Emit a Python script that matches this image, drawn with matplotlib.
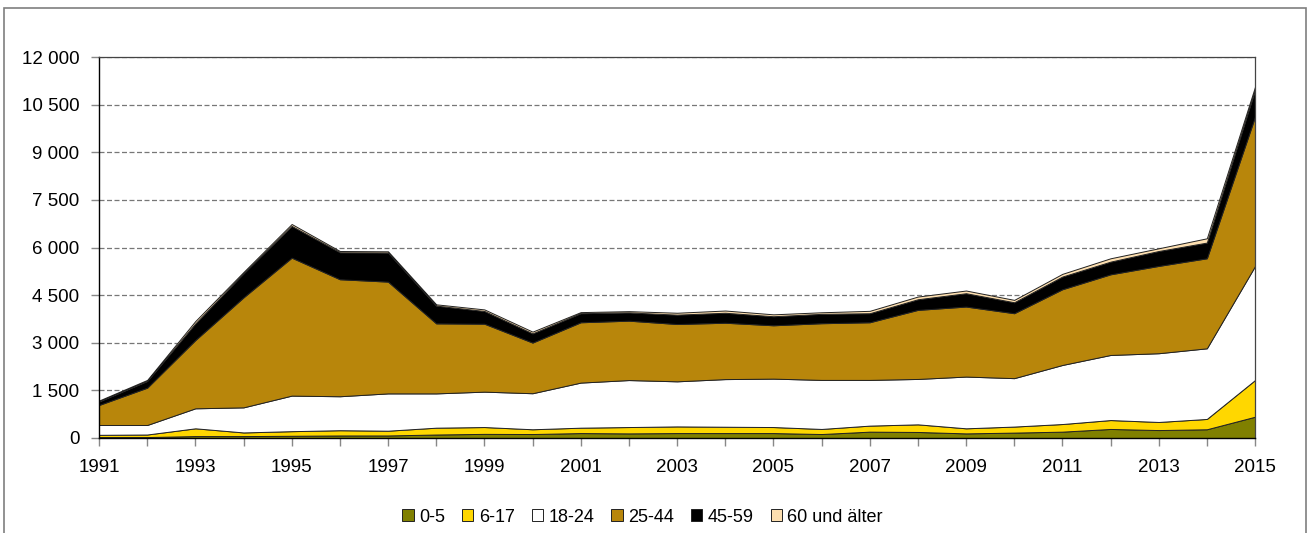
import matplotlib
matplotlib.use("Agg")
import matplotlib.pyplot as plt
from matplotlib.patches import Rectangle
from matplotlib.ticker import FuncFormatter, MultipleLocator

plt.rcParams['font.family'] = ['Liberation Sans', 'DejaVu Sans']

# Jahre und Werte je Altersgruppe
years = list(range(1991, 2016))
age_groups = ["0-5", "6-17", "18-24", "25-44", "45-59", "60 und älter"]
a_0_5 = [30, 30, 60, 60, 70, 80, 80, 110, 130, 125, 155, 145, 155, 155, 155, 125, 200, 190, 145, 170, 200, 285, 250, 275, 670]
a_6_17 = [70, 80, 245, 115, 145, 165, 150, 215, 215, 150, 170, 200, 210, 200, 190, 160, 190, 240, 160, 190, 240, 280, 255, 325, 1155]
a_18_24 = [310, 300, 630, 790, 1120, 1070, 1175, 1080, 1115, 1135, 1420, 1480, 1420, 1500, 1525, 1545, 1440, 1430, 1630, 1525, 1860, 2050, 2165, 2225, 3590]
a_25_44 = [630, 1175, 2150, 3465, 4345, 3685, 3520, 2205, 2140, 1595, 1900, 1870, 1805, 1775, 1680, 1785, 1815, 2175, 2205, 2045, 2385, 2540, 2750, 2835, 4705]
a_45_59 = [110, 210, 525, 755, 1000, 850, 915, 560, 400, 290, 285, 260, 295, 315, 285, 295, 285, 335, 420, 345, 400, 400, 470, 495, 840]
a_60 = [30, 35, 75, 45, 60, 40, 40, 40, 50, 55, 35, 40, 60, 70, 60, 50, 75, 85, 85, 75, 85, 105, 85, 135, 105]

colors = ["#808000", "#FFD700", "#FFFFFF", "#B8860B", "#000000", "#FDDFB0"]

fig = plt.figure(figsize=(13.09, 5.33), dpi=100)
ax = fig.add_axes([99 / 1309, 95 / 533, 1156 / 1309, 381 / 533])

polys = ax.stackplot(years, a_0_5, a_6_17, a_18_24, a_25_44, a_45_59, a_60,
                     colors=colors, labels=age_groups,
                     edgecolor="#222222", linewidth=0.7)

ax.set_xlim(1991, 2015)
ax.set_ylim(0, 12000)
ax.yaxis.set_major_locator(MultipleLocator(1500))
ax.yaxis.set_major_formatter(FuncFormatter(lambda v, p: f"{int(v):,}".replace(",", " ")))
ax.set_xticks(years)
ax.set_xticklabels([str(y) if (y - 1991) % 2 == 0 else "" for y in years])
ax.grid(axis="y", linestyle=(0, (4, 2)), color="#777777", linewidth=0.9)
ax.set_axisbelow(True)

ax.tick_params(axis="both", labelsize=13.5, color="#888888", length=6, width=1)
ax.tick_params(axis="x", pad=9)
ax.tick_params(axis="y", pad=8)
for side in ["left", "bottom"]:
    ax.spines[side].set_color("black")
    ax.spines[side].set_linewidth(1.0)
for side in ["top", "right"]:
    ax.spines[side].set_color("#444444")
    ax.spines[side].set_linewidth(0.9)

fig.legend(handles=polys, labels=age_groups, loc="center", bbox_to_anchor=(0.491, 0.03),
           ncol=6, frameon=False, fontsize=13, handlelength=0.62, handleheight=0.62,
           handletextpad=0.3, columnspacing=0.95)

# Rahmen um die Grafik
fig.add_artist(Rectangle((4 / 1309, -0.1), 1302 / 1309, 1.1 - 8 / 533,
                         transform=fig.transFigure, fill=False,
                         edgecolor="#7f7f7f", linewidth=1.2, clip_on=False))

fig.savefig("out.png", dpi=100)
